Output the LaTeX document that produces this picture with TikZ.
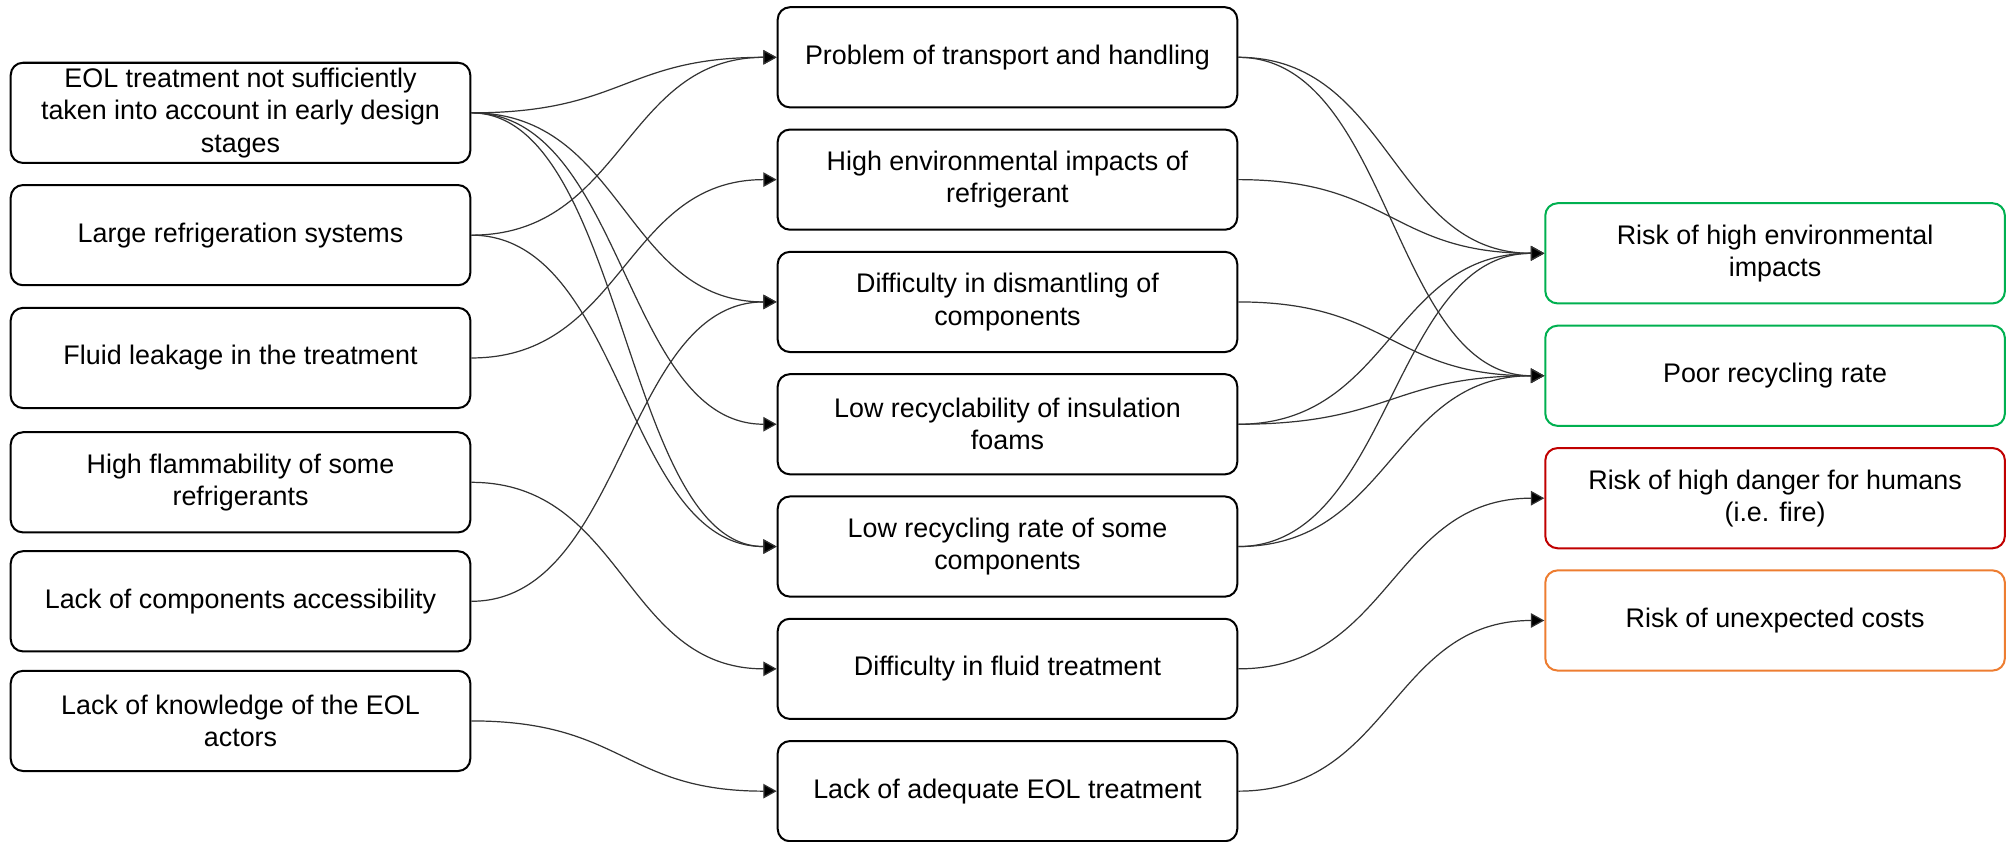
\documentclass[tikz,border=0pt]{standalone}
\usepackage{fontspec}
\setmainfont{Liberation Sans}
\usetikzlibrary{arrows.meta}
\definecolor{riskgreen}{RGB}{0,176,80}
\definecolor{riskred}{RGB}{192,0,0}
\definecolor{riskorange}{RGB}{237,125,49}

\begin{document}
\begin{tikzpicture}[x = 1.673mm, y = 1.673mm, font = \fontsize{10}{12}\selectfont,
    box/.style  = {draw, line width=0.75pt, rounded corners=1.6mm, align=center,
                   minimum width=60.1mm, minimum height=13.1mm, inner sep=0pt},
    link/.style = {-{Triangle[length=1.75mm,width=1.9mm,fill=black]}, line width=0.45pt,
                   draw=black!80, out=0, in=180, distance=20mm}]
    \useasboundingbox (0,0) rectangle (156.8,-65.8);

    \node[box] (eol)       at ( 18.8, -8.82) {EOL treatment not sufficiently\\taken into account in early design\\stages};
    \node[box] (large)     at ( 18.8,-18.38) {Large refrigeration systems};
    \node[box] (leak)      at ( 18.8,-27.98) {Fluid leakage in the treatment};
    \node[box] (flam)      at ( 18.8,-37.70) {High flammability of some\\refrigerants};
    \node[box] (access)    at ( 18.8,-47.00) {Lack of components accessibility};
    \node[box] (know)      at ( 18.8,-56.35) {Lack of knowledge of the EOL\\actors};

    \node[box] (transport) at ( 78.75, -4.48) {Problem of transport and handling};
    \node[box] (impact)    at ( 78.75,-14.04) {High environmental impacts of\\refrigerant};
    \node[box] (dismantle) at ( 78.75,-23.60) {Difficulty in dismantling of\\components};
    \node[box] (foam)      at ( 78.75,-33.16) {Low recyclability of insulation\\foams};
    \node[box] (rate)      at ( 78.75,-42.72) {Low recycling rate of some\\components};
    \node[box] (fluid)     at ( 78.75,-52.28) {Difficulty in fluid treatment};
    \node[box] (treat)     at ( 78.75,-61.84) {Lack of adequate EOL treatment};

    \node[box, draw=riskgreen]  (env)    at (138.75,-19.80) {Risk of high environmental\\impacts};
    \node[box, draw=riskgreen]  (recyc)  at (138.75,-29.37) {Poor recycling rate};
    \node[box, draw=riskred]    (danger) at (138.75,-38.94) {Risk of high danger for humans\\(i.e. fire)};
    \node[box, draw=riskorange] (cost)   at (138.75,-48.50) {Risk of unexpected costs};

    \draw[link] (eol.east)       to (transport.west);
    \draw[link] (eol.east)       to (dismantle.west);
    \draw[link] (eol.east)       to (foam.west);
    \draw[link] (eol.east)       to (rate.west);
    \draw[link] (large.east)     to (transport.west);
    \draw[link] (large.east)     to (rate.west);
    \draw[link] (leak.east)      to (impact.west);
    \draw[link] (flam.east)      to (fluid.west);
    \draw[link] (access.east)    to (dismantle.west);
    \draw[link] (know.east)      to (treat.west);

    \draw[link] (transport.east) to (env.west);
    \draw[link] (transport.east) to (recyc.west);
    \draw[link] (impact.east)    to (env.west);
    \draw[link] (dismantle.east) to (recyc.west);
    \draw[link] (foam.east)      to (env.west);
    \draw[link] (foam.east)      to (recyc.west);
    \draw[link] (rate.east)      to (env.west);
    \draw[link] (rate.east)      to (recyc.west);
    \draw[link] (fluid.east)     to (danger.west);
    \draw[link] (treat.east)     to (cost.west);
\end{tikzpicture}
\end{document}
